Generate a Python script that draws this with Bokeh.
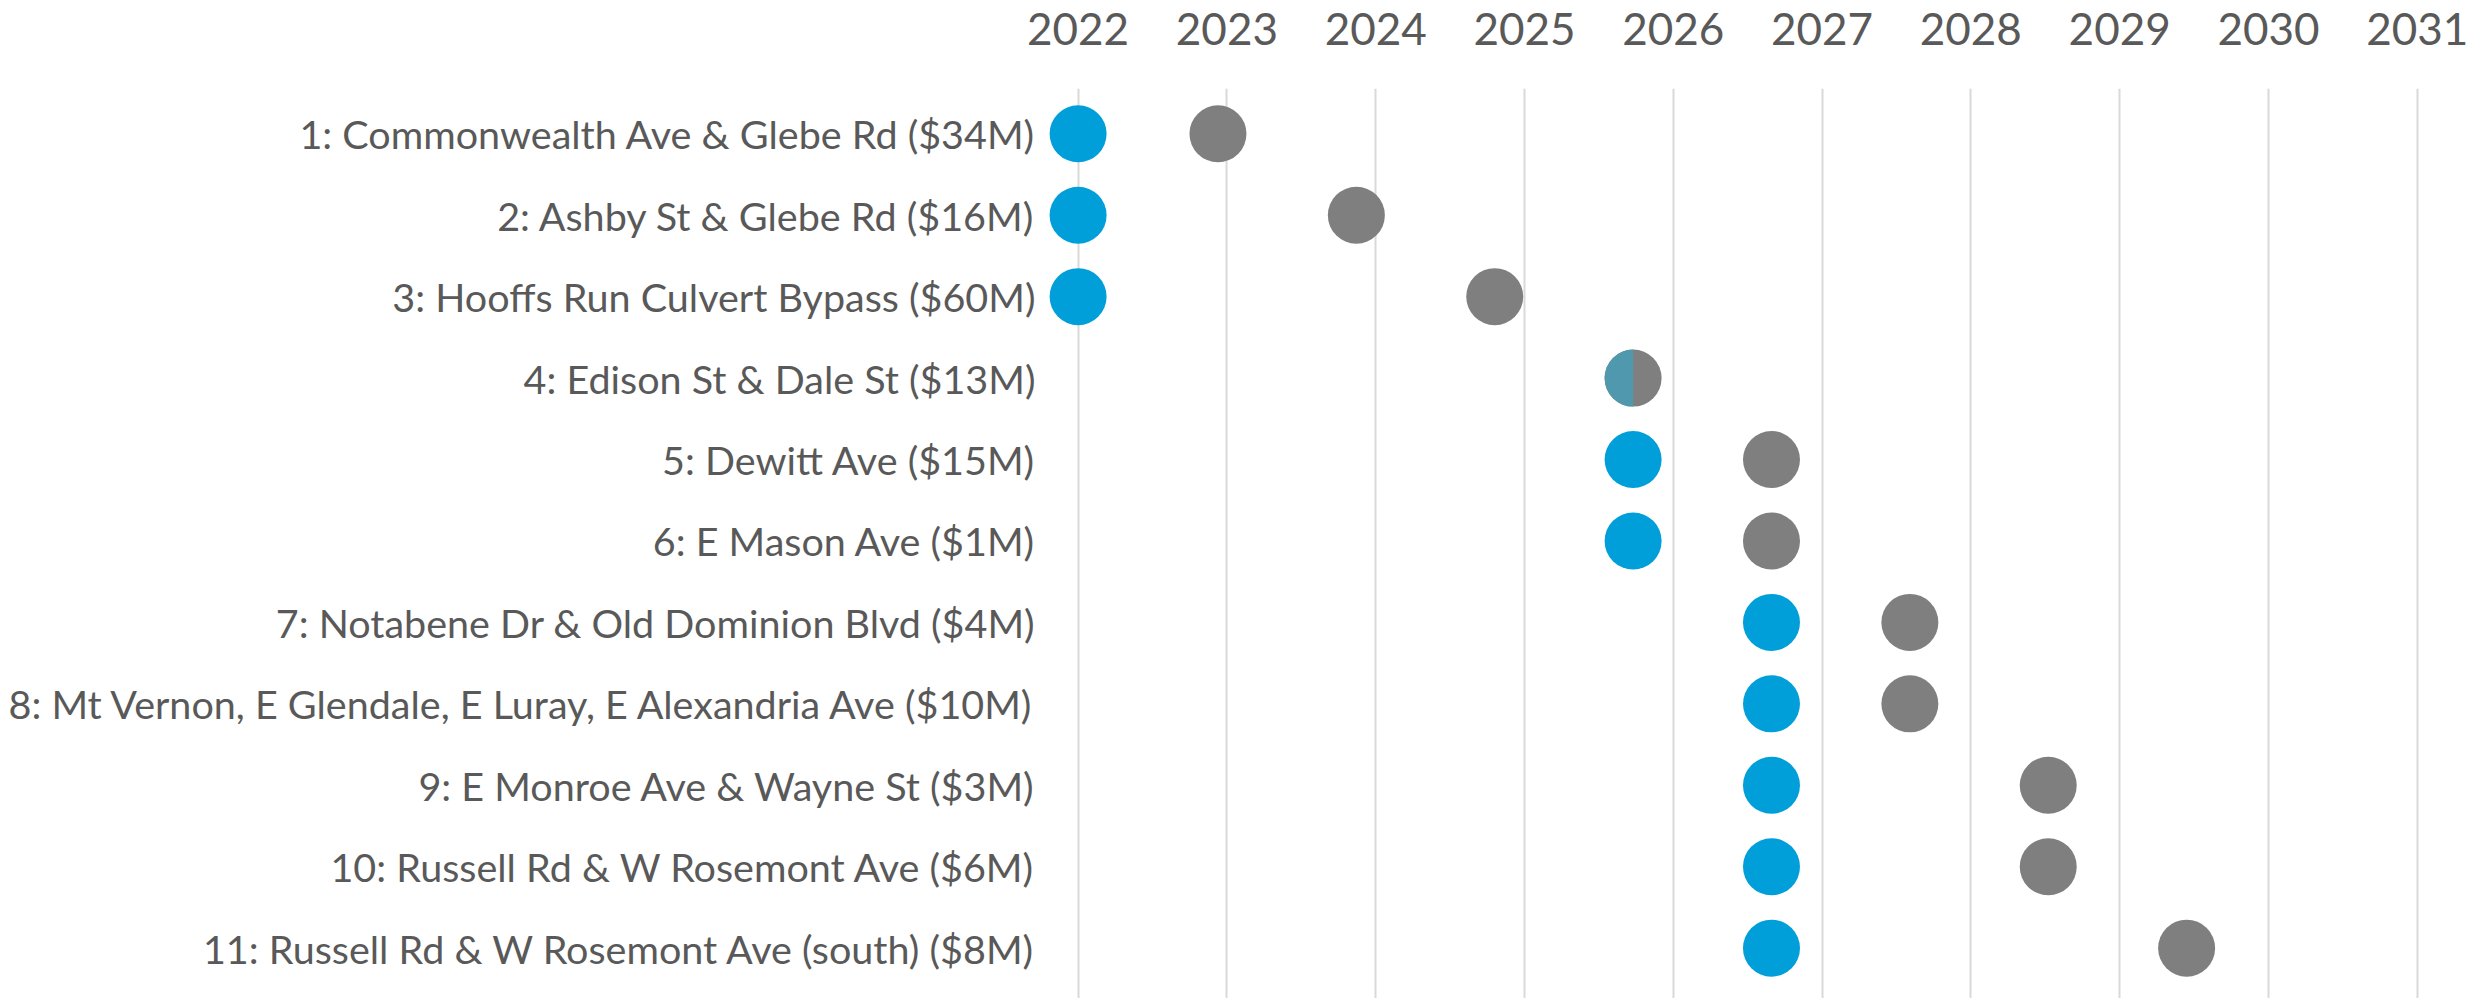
import math
from bokeh.plotting import figure
from bokeh.models import Range1d, FixedTicker
from bokeh.embed import file_html
from bokeh.resources import INLINE

labels = [
    "1: Commonwealth Ave & Glebe Rd ($34M)",
    "2: Ashby St & Glebe Rd ($16M)",
    "3: Hooffs Run Culvert Bypass ($60M)",
    "4: Edison St & Dale St ($13M)",
    "5: Dewitt Ave ($15M)",
    "6: E Mason Ave ($1M)",
    "7: Notabene Dr & Old Dominion Blvd ($4M)",
    "8: Mt Vernon, E Glendale, E Luray, E Alexandria Ave ($10M)",
    "9: E Monroe Ave & Wayne St ($3M)",
    "10: Russell Rd & W Rosemont Ave ($6M)",
    "11: Russell Rd & W Rosemont Ave (south) ($8M)",
]
start_year = [2022.0, 2022.0, 2022.0, 2025.73, 2025.73, 2025.73,
              2026.66, 2026.66, 2026.66, 2026.66, 2026.66]
end_year = [2022.94, 2023.87, 2024.80, 2025.73, 2026.66, 2026.66,
            2027.59, 2027.59, 2028.52, 2028.52, 2029.45]
years = list(range(2022, 2032))

rows = list(range(1, len(labels) + 1))

FONT = "Lato"
TXT = "#595959"
BLUE = "#009FDA"
GRAY = "#7F7F7F"
MIX = "#4f98ae"

p = figure(width=2484, height=998, output_backend="svg", toolbar_location=None,
           x_range=Range1d(2021.754, 2031.452), y_range=Range1d(11.618, 0.444),
           x_axis_location="above", min_border_left=1041, min_border_right=0,
           min_border_top=88, min_border_bottom=0)
p.outline_line_color = None
p.background_fill_color = "white"
p.border_fill_color = "white"

# x axis (top)
xa = p.xaxis[0]
xa.ticker = FixedTicker(ticks=years)
xa.axis_line_color = None
xa.major_tick_line_color = None
xa.minor_tick_line_color = None
xa.major_tick_out = 0
xa.major_tick_in = 0
xa.major_label_text_font = FONT
xa.major_label_text_font_size = "44px"
xa.major_label_text_color = TXT
xa.major_label_standoff = 44

# y axis
ya = p.yaxis[0]
ya.ticker = FixedTicker(ticks=rows)
ya.major_label_overrides = {r: lab for r, lab in zip(rows, labels)}
ya.axis_line_color = None
ya.major_tick_line_color = None
ya.minor_tick_line_color = None
ya.major_tick_out = 0
ya.major_tick_in = 0
ya.major_label_text_font = FONT
ya.major_label_text_font_size = "39.5px"
ya.major_label_text_color = TXT
ya.major_label_standoff = 6

p.xgrid.ticker = FixedTicker(ticks=years)
p.xgrid.grid_line_color = "#D9D9D9"
p.xgrid.grid_line_width = 2
p.ygrid.grid_line_color = None

same = [s == e for s, e in zip(start_year, end_year)]
bx = [s for s, m in zip(start_year, same) if not m]
by = [r for r, m in zip(rows, same) if not m]
mx = [s for s, m in zip(start_year, same) if m]
my = [r for r, m in zip(rows, same) if m]

p.scatter(end_year, rows, marker="circle", size=57, fill_color=GRAY, line_color=None)
p.scatter(bx, by, marker="circle", size=57, fill_color=BLUE, line_color=None)
p.wedge(mx, my, radius=28.5, radius_units="screen", start_angle=math.pi / 2,
        end_angle=3 * math.pi / 2, fill_color=MIX, line_color=None)

open("out.html", "w").write(file_html(p, INLINE))
